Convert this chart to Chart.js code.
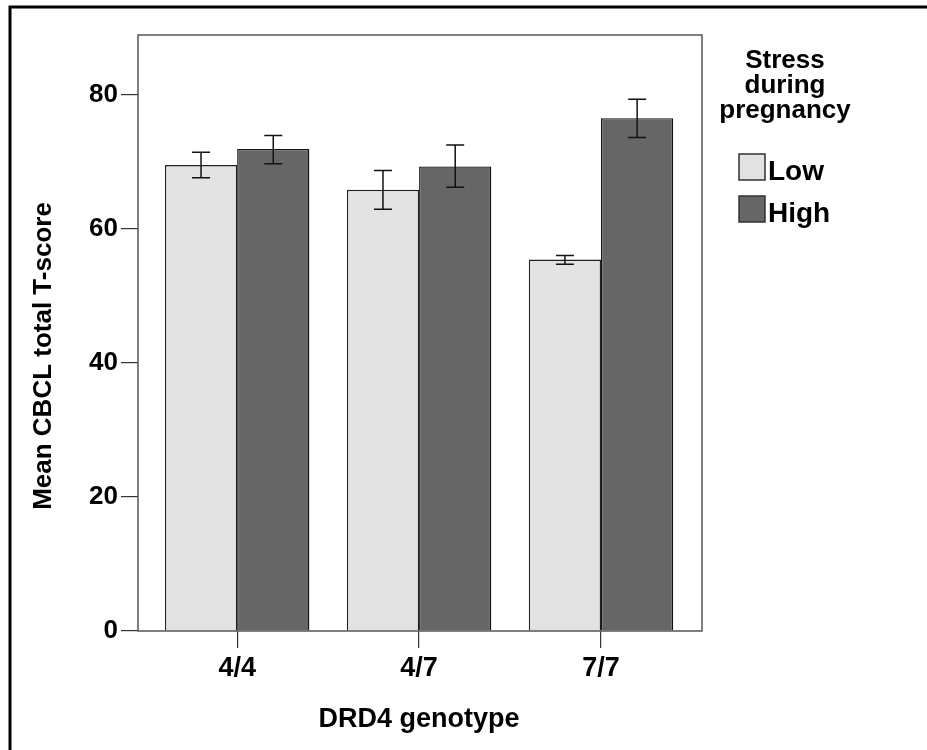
<!DOCTYPE html>
<html>
<head>
<meta charset="utf-8">
<script src="https://cdn.jsdelivr.net/npm/chart.js@4"></script>
<style>
  body { margin: 0; background: #fff; }
  canvas { display: block; }
</style>
</head>
<body>
<canvas id="chart" width="927" height="750"></canvas>
<script>
// Values
const categories = ['4/4', '4/7', '7/7'];
const seriesNames = ['Low', 'High'];
const lowMeans = [69.5, 65.8, 55.4];
const highMeans = [71.9, 69.3, 76.5];
const lowErrLo = [67.6, 62.9, 54.7];
const lowErrHi = [71.4, 68.7, 56.0];
const highErrLo = [69.7, 66.2, 73.6];
const highErrHi = [73.9, 72.5, 79.3];
const yTicks = [0, 20, 40, 60, 80];

const lowColor = '#e3e3e3';
const highColor = '#666666';
const font = 'Liberation Sans, Arial, sans-serif';

const errors = [
    { lo: lowErrLo, hi: lowErrHi },
    { lo: highErrLo, hi: highErrHi }
];

// Frame, error bars, titles and legend
const decorations = {
    id: 'decorations',
    afterDatasetsDraw(chart) {
        const ctx = chart.ctx;
        const area = chart.chartArea;
        const y = chart.scales.y;

        // error bars
        ctx.save();
        ctx.strokeStyle = '#111';
        ctx.lineWidth = 1.5;
        errors.forEach((err, d) => {
            chart.getDatasetMeta(d).data.forEach((bar, i) => {
                const top = y.getPixelForValue(err.hi[i]);
                const bot = y.getPixelForValue(err.lo[i]);
                ctx.beginPath();
                ctx.moveTo(bar.x, top);
                ctx.lineTo(bar.x, bot);
                ctx.moveTo(bar.x - 9, top);
                ctx.lineTo(bar.x + 9, top);
                ctx.moveTo(bar.x - 9, bot);
                ctx.lineTo(bar.x + 9, bot);
                ctx.stroke();
            });
        });
        ctx.restore();

        // plot frame
        ctx.save();
        ctx.strokeStyle = '#555';
        ctx.lineWidth = 1.5;
        ctx.strokeRect(area.left, area.top, area.right - area.left, area.bottom - area.top);
        ctx.restore();
    },
    afterDraw(chart) {
        const ctx = chart.ctx;
        ctx.save();
        ctx.fillStyle = '#000';

        // outer border (left and top)
        ctx.strokeStyle = '#000';
        ctx.lineWidth = 3;
        ctx.beginPath();
        ctx.moveTo(10, 750);
        ctx.lineTo(10, 7);
        ctx.lineTo(927, 7);
        ctx.stroke();

        // y title
        ctx.font = 'bold 26px ' + font;
        ctx.textAlign = 'center';
        ctx.textBaseline = 'middle';
        ctx.save();
        ctx.translate(44, 356);
        ctx.rotate(-Math.PI / 2);
        ctx.fillText('Mean CBCL total T-score', 0, 0);
        ctx.restore();

        // x title
        ctx.font = 'bold 27px ' + font;
        ctx.textBaseline = 'alphabetic';
        ctx.fillText('DRD4 genotype', 419, 727);

        // legend
        ctx.font = 'bold 26px ' + font;
        ctx.fillText('Stress', 785, 68);
        ctx.fillText('during', 785, 93);
        ctx.fillText('pregnancy', 785, 118);

        const colors = [lowColor, highColor];
        const boxTops = [154, 196];
        ctx.font = 'bold 28px ' + font;
        ctx.textAlign = 'left';
        seriesNames.forEach((name, i) => {
            ctx.fillStyle = colors[i];
            ctx.fillRect(739, boxTops[i], 26, 26);
            ctx.strokeStyle = '#333';
            ctx.lineWidth = 1.5;
            ctx.strokeRect(739, boxTops[i], 26, 26);
            ctx.fillStyle = '#000';
            ctx.fillText(name, 768, boxTops[i] + 26);
        });
        ctx.restore();
    }
};

new Chart(document.getElementById('chart'), {
    type: 'bar',
    data: {
        datasets: [
            {
                label: seriesNames[0],
                data: lowMeans.map((v, i) => ({ x: i + 1, y: v })),
                backgroundColor: lowColor,
                borderColor: '#222',
                borderWidth: 1.4
            },
            {
                label: seriesNames[1],
                data: highMeans.map((v, i) => ({ x: i + 1, y: v })),
                backgroundColor: highColor,
                borderColor: '#111',
                borderWidth: 1.4
            }
        ]
    },
    plugins: [decorations],
    options: {
        responsive: false,
        devicePixelRatio: 1,
        animation: false,
        categoryPercentage: 0.794,
        barPercentage: 1,
        layout: { padding: { top: 35, right: 225, left: 0, bottom: 0 } },
        plugins: {
            legend: { display: false },
            tooltip: { enabled: false }
        },
        scales: {
            x: {
                type: 'linear',
                offset: false,
                min: 0.455,
                max: 3.555,
                afterBuildTicks: scale => {
                    scale.ticks = categories.map((c, i) => ({ value: i + 1 }));
                },
                afterFit: scale => { scale.height = 119; },
                border: { display: false },
                grid: {
                    offset: false,
                    drawOnChartArea: false,
                    drawTicks: true,
                    tickLength: 17,
                    color: '#333',
                    lineWidth: 1.2
                },
                ticks: {
                    padding: 4,
                    color: '#000',
                    font: { family: font, size: 27, weight: 'bold' },
                    callback: v => categories[v - 1]
                }
            },
            y: {
                min: 0,
                max: 88.9,
                afterBuildTicks: scale => {
                    scale.ticks = yTicks.map(v => ({ value: v }));
                },
                afterFit: scale => { scale.width = 138; },
                border: { display: false },
                grid: {
                    drawOnChartArea: false,
                    drawTicks: true,
                    tickLength: 17,
                    color: '#333',
                    lineWidth: 1.2
                },
                ticks: {
                    padding: 3,
                    color: '#000',
                    font: { family: font, size: 26, weight: 'bold' }
                }
            }
        }
    }
});
</script>
</body>
</html>
